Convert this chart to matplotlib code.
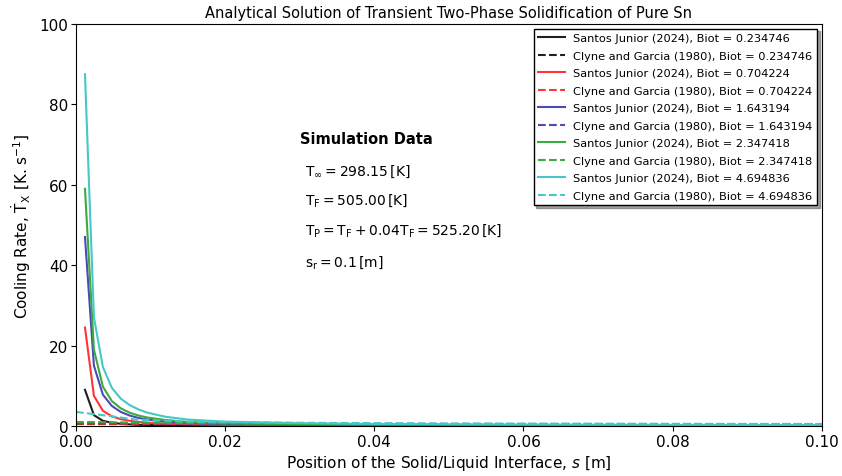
import numpy as np
import matplotlib
matplotlib.use("Agg")
import matplotlib.pyplot as plt

# Biot numbers of the five cases
biot = ["0.234746", "0.704224", "1.643194", "2.347418", "4.694836"]
colors = ["#202020", "#ff3535", "#4a4ab8", "#3caa3c", "#45c8c8"]

# interface position [m] for the Santos Junior (2024) curves
s_sj = [0.0012, 0.0024, 0.0036, 0.0048, 0.006, 0.0072, 0.0084, 0.0096,
        0.012, 0.015, 0.02, 0.03, 0.04, 0.06, 0.08, 0.1]

# cooling rate [K/s], Santos Junior (2024)
rate_sj_1 = [9.0, 2.7, 1.3, 0.8, 0.55, 0.4, 0.3, 0.25, 0.2, 0.15, 0.1, 0.08, 0.06, 0.05, 0.04, 0.03]
rate_sj_2 = [24.5, 7.5, 3.8, 2.4, 1.7, 1.3, 1.0, 0.8, 0.6, 0.45, 0.3, 0.2, 0.15, 0.12, 0.1, 0.08]
rate_sj_3 = [47.0, 15.0, 7.8, 5.0, 3.5, 2.6, 2.0, 1.6, 1.1, 0.8, 0.55, 0.35, 0.27, 0.2, 0.15, 0.12]
rate_sj_4 = [59.0, 19.0, 9.8, 6.2, 4.4, 3.3, 2.6, 2.1, 1.5, 1.0, 0.7, 0.45, 0.35, 0.25, 0.2, 0.15]
rate_sj_5 = [87.5, 27.0, 14.7, 9.5, 6.8, 5.2, 4.1, 3.3, 2.3, 1.6, 1.1, 0.7, 0.5, 0.35, 0.28, 0.22]

# interface position [m] for the Clyne and Garcia (1980) curves
s_cg = [0.0, 0.004, 0.008, 0.015, 0.02, 0.03, 0.05, 0.08, 0.1]

# cooling rate [K/s], Clyne and Garcia (1980)
rate_cg_1 = [0.5, 0.48, 0.45, 0.42, 0.4, 0.37, 0.34, 0.31, 0.3]
rate_cg_2 = [0.6, 0.58, 0.55, 0.5, 0.47, 0.43, 0.39, 0.36, 0.35]
rate_cg_3 = [0.8, 0.76, 0.7, 0.62, 0.57, 0.5, 0.44, 0.41, 0.4]
rate_cg_4 = [1.0, 0.95, 0.85, 0.72, 0.65, 0.56, 0.5, 0.46, 0.45]
rate_cg_5 = [3.5, 2.6, 1.6, 1.1, 0.95, 0.8, 0.65, 0.55, 0.5]

rates_sj = [rate_sj_1, rate_sj_2, rate_sj_3, rate_sj_4, rate_sj_5]
rates_cg = [rate_cg_1, rate_cg_2, rate_cg_3, rate_cg_4, rate_cg_5]

fig = plt.figure(figsize=(8.42, 4.77), dpi=100)
ax = fig.add_axes([0.0903, 0.1048, 0.8857, 0.8428])

for i in range(len(biot)):
    ax.plot(s_sj, rates_sj[i], color=colors[i], linestyle="-", linewidth=1.5,
            label=f"Santos Junior (2024), Biot = {biot[i]}")
    ax.plot(s_cg, rates_cg[i], color=colors[i], linestyle="--", linewidth=1.5,
            label=f"Clyne and Garcia (1980), Biot = {biot[i]}")

ax.set_xlim(0.0, 0.1)
ax.set_ylim(0, 100)
ax.set_xticks(np.arange(0, 0.101, 0.02))
ax.set_yticks(np.arange(0, 101, 20))
ax.tick_params(labelsize=11, pad=2)

ax.set_title("Analytical Solution of Transient Two-Phase Solidification of Pure Sn", fontsize=10.5, pad=5)
ax.set_xlabel("Position of the Solid/Liquid Interface, $s$ [m]", fontsize=11, labelpad=3)
ax.set_ylabel(r"Cooling Rate, $\dot{\mathrm{T}}_{\mathrm{X}}$ [K. s$^{-1}$]", fontsize=11, labelpad=5)

ax.legend(loc="upper right", fontsize=8.2, shadow=True, fancybox=False,
          framealpha=1, edgecolor="black", handlelength=2.4, handletextpad=0.7,
          labelspacing=0.66, borderaxespad=0.4)

# simulation data box
ax.text(0.030, 71.4, "Simulation Data", fontsize=10.5, fontweight="bold", va="center")
ax.text(0.0307, 63.4, r"$\mathregular{T_\infty = 298.15\,[K]}$", fontsize=10, va="center")
ax.text(0.0307, 56.3, r"$\mathregular{T_F = 505.00\,[K]}$", fontsize=10, va="center")
ax.text(0.0307, 48.8, r"$\mathregular{T_P = T_F + 0.04T_F = 525.20\,[K]}$", fontsize=10, va="center")
ax.text(0.0307, 41.0, r"$\mathregular{s_r = 0.1\,[m]}$", fontsize=10, va="center")

fig.savefig("out.png", dpi=100)
